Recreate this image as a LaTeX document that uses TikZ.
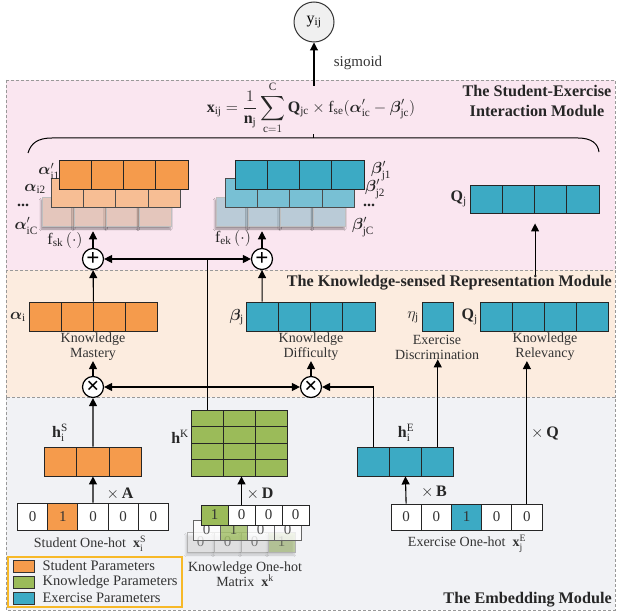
\RequirePackage{fix-cm}
\documentclass[tikz,border=0pt]{standalone}
\usepackage{fontspec}
\setmainfont{Liberation Serif}
\usepackage{amsmath,bm}
\usepackage{tikz}
\usetikzlibrary{arrows.meta}
\usetikzlibrary{calc,shadows.blur,positioning}

\definecolor{stud}{RGB}{245,155,76}
\definecolor{studlite}{RGB}{247,190,148}
\definecolor{studfade}{RGB}{228,198,188}
\definecolor{know}{RGB}{155,187,89}
\definecolor{exer}{RGB}{60,170,196}
\definecolor{exerlite}{RGB}{120,192,212}
\definecolor{exerfade}{RGB}{186,203,215}
\definecolor{interbg}{RGB}{250,230,240}
\definecolor{reprbg}{RGB}{252,236,223}
\definecolor{embbg}{RGB}{241,242,245}
\definecolor{legendc}{RGB}{247,185,40}

\newcommand{\lblfont}{\fontsize{14}{15}\selectfont}
\newcommand{\mathfont}{\fontsize{16}{17}\selectfont}
\newcommand{\ttlfont}{\fontsize{16.2}{20}\selectfont\bfseries}

\begin{document}
\begin{tikzpicture}[x=1pt, y=-1pt,
        module/.style={draw=black!40, densely dashed, line width=0.8pt},
        cell/.style={draw=black!85, line width=0.9pt, inner sep=0pt, minimum height=29pt, font=\fontsize{15}{15}\selectfont, text=black!80},
        lbl/.style={font=\lblfont, text=black!80, align=center, inner sep=0pt},
        mlbl/.style={font=\mathfont, text=black!85, inner sep=0pt},
        ttl/.style={font=\ttlfont, text=black!85, align=center, inner sep=0pt},
        op/.style={circle, draw, line width=1.2pt, fill=white, minimum size=21pt, inner sep=0pt, font=\fontsize{23}{23}\selectfont\bfseries},
        arr/.style={-{Triangle[length=8pt,width=8pt]}, line width=1.1pt},
        ln/.style={line width=1.1pt},
        swatch/.style={draw=black!80, line width=0.8pt, minimum width=21pt, minimum height=12pt, inner sep=0pt},
        faded/.style={blur shadow={shadow blur steps=6, shadow xshift=-1pt, shadow yshift=-3pt}},]
    \useasboundingbox (0,0) rectangle (619,615);

    \draw[module, fill=interbg] (6,80) rectangle (615,270);
    \draw[module, fill=reprbg] (6,270) rectangle (615,397);
    \draw[module, fill=embbg] (6,397) rectangle (615,610);

    \node (ttlinter) [ttl] at (537,101) {The Student-Exercise\\Interaction Module};
    \node (ttlrepr) [ttl, anchor=east] at (612,283) {The Knowledge-sensed Representation Module};
    \node (ttlemb) [ttl, anchor=east] at (612,600) {The Embedding Module};

    \node (yij) [circle, draw=black!80, fill=black!6, line width=1pt, minimum size=40pt, inner sep=0pt, font=\mathfont] at (314,22) {$\mathrm{y}_{\mathrm{ij}}$};
    \coordinate (out) at (314,86);
    \draw[arr] (out) -- (yij);
    \node (sigm) [lbl, font=\fontsize{15}{15}\selectfont] at (358,63) {sigmoid};

    \node (frm) [mlbl] at (311,108) {$\displaystyle \mathbf{x}_{\mathrm{ij}} = \frac{1}{\mathbf{n}_{\mathrm{j}}}\sum_{\mathrm{c}=1}^{\mathrm{C}} \mathbf{Q}_{\mathrm{jc}} \times \mathrm{f}_{\mathrm{se}}(\bm{\alpha}'_{\mathrm{ic}} - \bm{\beta}'_{\mathrm{jc}})$};
    \draw[line width=1pt] (28,153) .. controls (31,143) and (38,138) .. (52,138) -- (578,138) .. controls (592,138) and (598,144) .. (599,152);
    \draw[line width=1pt] (313,138) -- (313,134);

    \foreach \k in {0,...,3} {
        \node (a3\k) [cell, faded, minimum width=32.3pt, fill=studfade, draw=black!25, line width=0.5pt] at ({42+16.15+32.3*\k},211.5) {};
        \node (b3\k) [cell, faded, minimum width=32.3pt, fill=exerfade, draw=black!25, line width=0.5pt] at ({216+16.15+32.3*\k},211.5) {};
    }
    \foreach \k in {0,...,3} {
        \node (a2\k) [cell, minimum width=32.3pt, fill=studlite, draw=black!70, line width=0.6pt] at ({51+16.15+32.3*\k},192.5) {};
        \node (b2\k) [cell, minimum width=32.3pt, fill=exerlite, draw=black!70, line width=0.6pt] at ({225+16.15+32.3*\k},192.5) {};
    }
    \foreach \k in {0,...,3} {
        \node (a1\k) [cell, minimum width=32.3pt, fill=stud] at ({59+16.15+32.3*\k},174.5) {};
        \node (b1\k) [cell, minimum width=32.3pt, fill=exer] at ({235+16.15+32.3*\k},174.5) {};
        \node (qi\k) [cell, minimum width=32.3pt, minimum height=28pt, fill=exer] at ({470+16.15+32.3*\k},199) {};
    }
    \node [mlbl, anchor=east] at (60,171) {$\bm{\alpha}'_{\mathrm{i1}}$};
    \node [mlbl, anchor=east] at (46,189) {$\bm{\alpha}_{\mathrm{i2}}$};
    \node [mlbl] at (23,205) {\textbf{...}};
    \node [mlbl, anchor=east] at (38,226) {$\bm{\alpha}'_{\mathrm{iC}}$};
    \node [mlbl, anchor=west] at (371,171) {$\bm{\beta}'_{\mathrm{j1}}$};
    \node [mlbl, anchor=west] at (365,189) {$\bm{\beta}'_{\mathrm{j2}}$};
    \node [mlbl] at (369,205) {\textbf{...}};
    \node [mlbl, anchor=west] at (352,227) {$\bm{\beta}'_{\mathrm{jC}}$};
    \node [mlbl, anchor=east] at (467,199) {$\mathbf{Q}_{\mathrm{j}}$};

    \node (plus1) [op] at (93,259) {+};
    \node (plus2) [op] at (262,259) {+};
    \node (fsk) [mlbl] at (65,240) {$\mathrm{f}_{\mathrm{sk}}\,(\cdot)$};
    \node (fek) [mlbl] at (233,238) {$\mathrm{f}_{\mathrm{ek}}\,(\cdot)$};

    \foreach \k in {0,...,3} {
        \node (am\k) [cell, minimum width=32pt, fill=stud] at ({29+16+32*\k},316.5) {};
        \node (bm\k) [cell, minimum width=32.3pt, fill=exer] at ({246+16.15+32.3*\k},316.5) {};
        \node (qr\k) [cell, minimum width=32pt, fill=exer] at ({480+16+32*\k},316.5) {};
    }
    \node (eta) [cell, minimum width=31pt, fill=exer] at (437.5,316.5) {};
    \node [mlbl, anchor=east] at (26,317) {$\bm{\alpha}_{\mathrm{i}}$};
    \node [mlbl, anchor=east] at (244,317) {$\bm{\beta}_{\mathrm{j}}$};
    \node [mlbl, anchor=east] at (419,317) {$\eta_{\mathrm{j}}$};
    \node [mlbl, anchor=east] at (478,317) {$\mathbf{Q}_{\mathrm{j}}$};
    \node (mast) [lbl] at (93,347) {Knowledge\\Mastery};
    \node (diff) [lbl] at (311,347) {Knowledge\\Difficulty};
    \node (disc) [lbl] at (437,347) {Exercise\\Discrimination};
    \node (relv) [lbl] at (545,347) {Knowledge\\Relevancy};

    \node (times1) [op] at (93,387) {×};
    \node (times2) [op] at (311,387) {×};

    \foreach \k in {0,1,2} {
        \node (hs\k) [cell, minimum width=32.3pt, fill=stud] at ({44.5+16.15+32.3*\k},461.5) {};
        \node (he\k) [cell, minimum width=32.3pt, fill=exer] at ({357+16.15+32.3*\k},461.5) {};
        \foreach \r in {0,...,3}
            \node (hk\r\k) [cell, minimum width=32.3pt, minimum height=16.5pt, fill=know] at ({191+16.15+32.3*\k},{418.25+16.5*\r}) {};
    }
    \node [mlbl] at (60,433) {$\mathbf{h}^{\mathrm{S}}_{\mathrm{i}}$};
    \node [mlbl] at (180,437) {$\mathbf{h}^{\mathrm{K}}$};
    \node [mlbl] at (406,433) {$\mathbf{h}^{\mathrm{E}}_{\mathrm{i}}$};

    \foreach \v [count=\k from 0] in {0,1,0,0,0} {
        \ifnum\v=1 \def\cfill{stud}\else\def\cfill{white}\fi
        \node (so\k) [cell, minimum width=30.2pt, minimum height=27pt, fill=\cfill] at ({17.5+15.1+30.2*\k},516.5) {\v};
    }
    \foreach \v [count=\k from 0] in {0,0,1,0,0} {
        \ifnum\v=1 \def\cfill{exer}\else\def\cfill{white}\fi
        \node (eo\k) [cell, minimum width=30.2pt, minimum height=26pt, fill=\cfill] at ({391+15.1+30.2*\k},517) {\v};
    }
    \foreach \v [count=\k from 0] in {0,0,0,1} {
        \ifnum\v=1 \def\cfill{know}\else\def\cfill{white}\fi
        \node (k3\k) [cell, faded, minimum width=27pt, minimum height=20pt, fill=\cfill, fill opacity=0.45, text opacity=0.6, draw=black!30, line width=0.6pt] at ({187+13.5+27*\k},542) {\v};
    }
    \foreach \v [count=\k from 0] in {0,1,0,0} {
        \ifnum\v=1 \def\cfill{know}\else\def\cfill{white}\fi
        \node (k2\k) [cell, minimum width=27pt, minimum height=20pt, fill=\cfill, fill opacity=0.75, text opacity=0.8, draw=black!60, line width=0.7pt] at ({193+13.5+27*\k},530) {\v};
    }
    \foreach \v [count=\k from 0] in {1,0,0,0} {
        \ifnum\v=1 \def\cfill{know}\else\def\cfill{white}\fi
        \node (k1\k) [cell, minimum width=27pt, minimum height=20pt, fill=\cfill] at ({201+13.5+27*\k},515) {\v};
    }
    \node (sohl) [lbl] at (90,544) {Student One-hot\ \ $\mathbf{x}^{\mathrm{S}}_{\mathrm{i}}$};
    \node (eohl) [lbl] at (467,544) {Exercise One-hot\ \ $\mathbf{x}^{\mathrm{E}}_{\mathrm{j}}$};
    \node (kohl) [lbl] at (245,574) {Knowledge One-hot\\Matrix\ \ $\mathbf{x}^{\mathrm{k}}$};
    \node [mlbl] at (120,494) {$\times\,\mathbf{A}$};
    \node [mlbl] at (260,494) {$\times\,\mathbf{D}$};
    \node [mlbl] at (434,492) {$\times\,\mathbf{B}$};
    \node [mlbl] at (545,433) {$\times\,\mathbf{Q}$};

    \draw[arr] (so2.north) -- (hs1.south);
    \draw[arr] (hs1.north) -- (times1);
    \draw[arr] (times1) -- (mast.south);
    \draw[arr] (am1.north east) -- (plus1);
    \draw[arr, shorten >=5pt] (plus1) -- (plus1 |- a31.south);
    \draw[arr] (k11.north) -- (k11.north |- hk31.south);
    \coordinate (ja) at (hk00.north |- plus1);
    \coordinate (jb) at (hk00.north |- times1);
    \draw[ln] (hk00.north) -- (ja);
    \draw[arr] (ja) -- (plus1);
    \draw[arr] (ja) -- (plus2);
    \draw[arr] (jb) -- (times1);
    \draw[arr] (jb) -- (times2);
    \draw[arr] (times2) -- (diff.south);
    \draw[arr] (bm0.north) -- (plus2);
    \draw[arr, shorten >=5pt] (plus2) -- (plus2 |- b31.south);
    \draw[arr] (eo0.north) -- (he1.south);
    \draw[arr] (he0.north) |- (times2);
    \draw[arr] (he2.north) -- (he2.north |- disc.south);
    \draw[arr] (eo4.north) -- (eo4.north |- relv.south);
    \draw[arr, shorten >=10pt] (qi1.south east |- ttlrepr.north) -- (qi1.south east);

    \draw[legendc, line width=1.2pt] (8,557) rectangle (182,607);
    \node (sw1) [swatch, fill=stud] at (23.5,566) {};
    \node (sw2) [swatch, fill=know] at (23.5,582) {};
    \node (sw3) [swatch, fill=exer] at (23.5,598) {};
    \node [lbl, right=8pt of sw1, font=\fontsize{14.5}{15}\selectfont] {Student Parameters};
    \node [lbl, right=8pt of sw2, font=\fontsize{14.5}{15}\selectfont] {Knowledge Parameters};
    \node [lbl, right=8pt of sw3, font=\fontsize{14.5}{15}\selectfont] {Exercise Parameters};
\end{tikzpicture}
\end{document}
